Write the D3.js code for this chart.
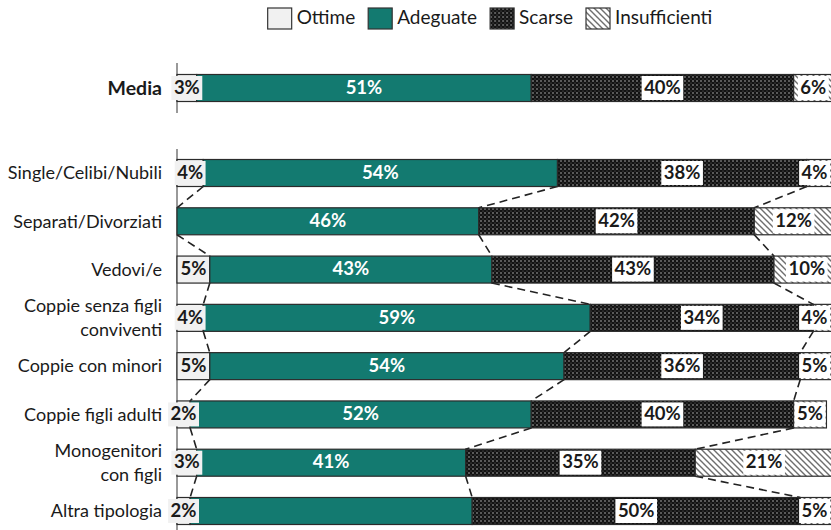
<!DOCTYPE html>
<html>
<head>
<meta charset="utf-8">
<script src="https://cdn.jsdelivr.net/npm/d3@7"></script>
<style>
  html, body { margin: 0; padding: 0; background: #fff; }
  svg { display: block; font-family: Lato, "Open Sans", sans-serif; }
</style>
</head>
<body>
<svg id="chart" width="831" height="530"></svg>
<script>
// Giudizio sulle risorse economiche della famiglia, per tipologia familiare (%)
const series = ["Ottime", "Adeguate", "Scarse", "Insufficienti"];

const mediaLabel = "Media";
const mediaValues = [3, 51, 40, 6];

const categories = [
  "Single/Celibi/Nubili",
  "Separati/Divorziati",
  "Vedovi/e",
  "Coppie senza figli\nconviventi",
  "Coppie con minori",
  "Coppie figli adulti",
  "Monogenitori\ncon figli",
  "Altra tipologia"
];
const ottime        = [4, 0, 5, 4, 5, 2, 3, 2];
const adeguate      = [54, 46, 43, 59, 54, 52, 41, 43];
const scarse        = [38, 42, 43, 34, 36, 40, 35, 50];
const insufficienti = [4, 12, 10, 4, 5, 5, 21, 5];
// the "Adeguate" value of the last row carries no data label
const adeguateLabelHidden = [false, false, false, false, false, false, false, true];

const W = 831;
const svg = d3.select("#chart");
const defs = svg.append("defs");

// dotted fill for "Scarse"
const pDots = defs.append("pattern").attr("id", "pat-scarse")
  .attr("patternUnits", "userSpaceOnUse").attr("width", 4).attr("height", 4);
pDots.append("rect").attr("width", 4).attr("height", 4).attr("fill", "#121212");
pDots.append("circle").attr("cx", 1).attr("cy", 1).attr("r", 0.75).attr("fill", "#c4c4c4");
pDots.append("circle").attr("cx", 3).attr("cy", 3).attr("r", 0.6).attr("fill", "#6e6e6e");

// diagonal hatch for "Insufficienti"
const pHatch = defs.append("pattern").attr("id", "pat-insuff")
  .attr("patternUnits", "userSpaceOnUse").attr("width", 6).attr("height", 6);
pHatch.append("rect").attr("width", 6).attr("height", 6).attr("fill", "#ffffff");
pHatch.append("path").attr("d", "M-1,-1 L7,7 M-1,5 L1,7 M5,-1 L7,1")
  .attr("stroke", "#6e6e6e").attr("stroke-width", 1.4);

const fills = {
  "Ottime": "#f1f1f1",
  "Adeguate": "#137a70",
  "Scarse": "url(#pat-scarse)",
  "Insufficienti": "url(#pat-insuff)"
};
const labelStyle = {
  "Ottime":        { text: "#1a1a1a", box: "#f1f1f1" },
  "Adeguate":      { text: "#ffffff", box: null },
  "Scarse":        { text: "#1a1a1a", box: "#ffffff" },
  "Insufficienti": { text: "#1a1a1a", box: "#ffffff" }
};

const x = d3.scaleLinear().domain([0, 100]).range([177, 833]);
const barH = 27;

const yMedia = d3.scalePoint().domain([mediaLabel]).range([88, 88]);
const y = d3.scalePoint().domain(categories).range([173, 511]);

// build stacked rows
function stackRow(cat, vals, yc, hidden) {
  let acc = 0;
  return series.map((s, j) => {
    const seg = { cat, series: s, value: vals[j], x0: acc, x1: acc + vals[j], yc,
                  showLabel: vals[j] > 0 && !(hidden && hidden[j]) };
    acc += vals[j];
    return seg;
  });
}
const mediaRow = stackRow(mediaLabel, mediaValues, yMedia(mediaLabel));
const rows = categories.map((c, i) =>
  stackRow(c, [ottime[i], adeguate[i], scarse[i], insufficienti[i]], y(c),
           [false, adeguateLabelHidden[i], false, false]));

// axis lines
svg.append("line").attr("x1", x(0)).attr("x2", x(0)).attr("y1", 63).attr("y2", 113)
  .attr("stroke", "#555").attr("stroke-width", 1.2);
svg.append("line").attr("x1", x(0)).attr("x2", x(0)).attr("y1", 149).attr("y2", 530)
  .attr("stroke", "#555").attr("stroke-width", 1.2);

// series lines between consecutive rows
const connectors = [];
for (let i = 0; i < rows.length - 1; i++) {
  for (let j = 0; j < 3; j++) {
    connectors.push({
      xa: rows[i][j].x1, ya: rows[i][j].yc + barH / 2,
      xb: rows[i + 1][j].x1, yb: rows[i + 1][j].yc - barH / 2
    });
  }
}
svg.append("g").selectAll("line").data(connectors).join("line")
  .attr("x1", d => x(d.xa)).attr("y1", d => d.ya)
  .attr("x2", d => x(d.xb)).attr("y2", d => d.yb)
  .attr("stroke", "#222").attr("stroke-width", 1.6).attr("stroke-dasharray", "8,5");

const allSegs = [mediaRow, ...rows].flat();

// bars
svg.append("g").selectAll("rect").data(allSegs.filter(d => d.value > 0)).join("rect")
  .attr("x", d => x(d.x0)).attr("y", d => d.yc - barH / 2)
  .attr("width", d => x(d.x1) - x(d.x0)).attr("height", barH)
  .attr("fill", d => fills[d.series])
  .attr("stroke", "#2b2b2b").attr("stroke-width", 1.2);

// data labels (kept inside the drawing area on the right)
const gl = svg.append("g").attr("font-weight", 700).attr("font-size", 18.5);
allSegs.filter(d => d.showLabel).forEach(d => {
  let cx = (x(d.x0) + x(d.x1)) / 2;
  const st = labelStyle[d.series];
  const t = gl.append("text").attr("y", d.yc + 1)
    .attr("text-anchor", "middle").attr("dominant-baseline", "middle")
    .attr("fill", st.text).text(d.value + "%");
  const w = t.node().getComputedTextLength() + 5;
  cx = Math.min(cx, W - 1 - w / 2);
  t.attr("x", cx);
  if (st.box) {
    gl.insert("rect", () => t.node())
      .attr("x", cx - w / 2).attr("y", d.yc - barH / 2 + 1.5)
      .attr("width", w).attr("height", barH - 3)
      .attr("fill", st.box);
  }
});

// category labels
function catLabels(scale, bold) {
  const ax = d3.axisLeft(scale).tickSize(0).tickPadding(15);
  const g = svg.append("g").attr("transform", `translate(${x(0)},0)`).call(ax);
  g.select(".domain").remove();
  g.selectAll("text")
    .attr("font-family", "Lato, sans-serif").attr("font-size", bold ? 19.5 : 18)
    .attr("font-weight", bold ? 700 : 400).attr("fill", "#1a1a1a")
    .each(function (d) {
      const lines = d.split("\n");
      const el = d3.select(this).text(null);
      lines.forEach((ln, k) => {
        el.append("tspan").attr("x", -15)
          .attr("dy", k === 0 ? (-(lines.length - 1) * 0.66 + 0.32) + "em" : "1.32em")
          .text(ln);
      });
    });
}
catLabels(yMedia, true);
catLabels(y, false);

// legend, centred above the plot
const lg = svg.append("g").attr("font-size", 19).attr("fill", "#1a1a1a");
const gap = 13;
let lx = 0;
series.forEach(s => {
  const item = lg.append("g").attr("transform", `translate(${lx},0)`);
  item.append("rect").attr("x", 0).attr("y", 8).attr("width", 24).attr("height", 21)
    .attr("fill", fills[s]).attr("stroke", "#333").attr("stroke-width", 1.2);
  const t = item.append("text").attr("x", 29).attr("y", 19.5)
    .attr("dominant-baseline", "middle").text(s);
  lx += 29 + t.node().getComputedTextLength() + gap;
});
const lw = lx - gap;
lg.attr("transform", `translate(${490 - lw / 2},0)`);
</script>
</body>
</html>
